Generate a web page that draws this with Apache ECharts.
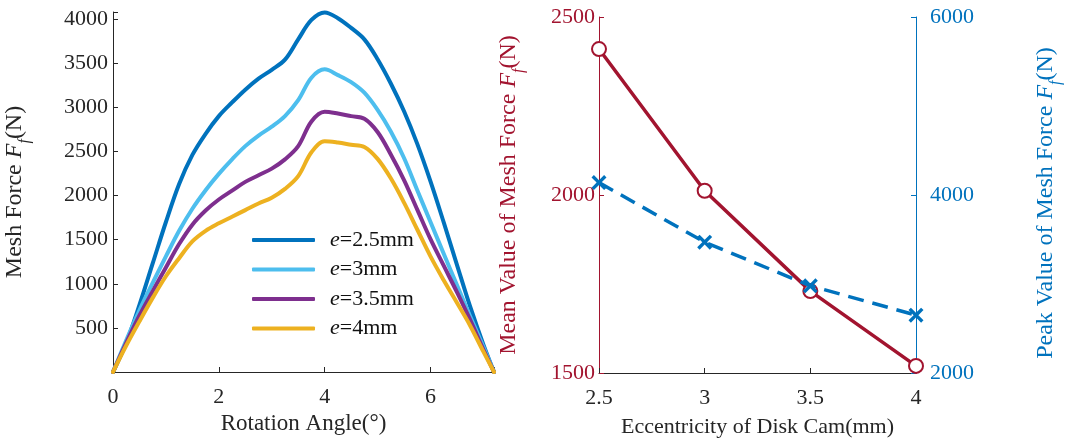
<!DOCTYPE html>
<html>
<head>
<meta charset="utf-8">
<script src="https://cdn.jsdelivr.net/npm/echarts@6/dist/echarts.min.js"></script>
<style>
  html, body { margin: 0; padding: 0; background: #ffffff; }
  #chart { width: 1065px; height: 443px; }
</style>
</head>
<body>
<div id="chart"></div>
<script>
// Rotation angle samples (degrees)
const angleDeg = [0, 0.25, 0.5, 0.75, 1, 1.25, 1.5, 1.75, 2, 2.25, 2.5, 2.75, 3, 3.25, 3.5, 3.75,
                  4, 4.25, 4.5, 4.75, 5, 5.25, 5.5, 5.75, 6, 6.25, 6.5, 6.75, 7, 7.2];

// Mesh force (N) over rotation angle, one array per eccentricity
const forceE25 = [0, 330, 760, 1230, 1700, 2130, 2460, 2700, 2900, 3055, 3200, 3325, 3425, 3540, 3770, 3990,
                  4075, 4010, 3900, 3770, 3545, 3270, 2955, 2585, 2160, 1695, 1215, 740, 310, 0];
const forceE3  = [0, 360, 700, 1010, 1310, 1600, 1850, 2060, 2245, 2410, 2560, 2680, 2780, 2900, 3080, 3335,
                  3430, 3365, 3285, 3165, 2970, 2725, 2425, 2060, 1700, 1340, 985, 630, 285, 0];
const forceE35 = [0, 330, 640, 915, 1185, 1450, 1670, 1830, 1955, 2055, 2155, 2230, 2305, 2410, 2560, 2840,
                  2950, 2930, 2900, 2870, 2720, 2465, 2175, 1840, 1505, 1205, 905, 590, 255, 0];
const forceE4  = [0, 300, 575, 840, 1085, 1290, 1480, 1600, 1685, 1760, 1835, 1910, 1975, 2075, 2220, 2490,
                  2615, 2600, 2575, 2550, 2415, 2195, 1920, 1615, 1310, 1040, 785, 525, 230, 0];

const curveNames = ['e=2.5mm', 'e=3mm', 'e=3.5mm', 'e=4mm'];

// Eccentricity of the disk cam (mm) and the derived force statistics
const eccentricity = [2.5, 3, 3.5, 4];
const meanForce = [2410, 2012, 1730, 1520];
const peakForce = [4140, 3470, 2980, 2650];

const SERIF = 'Liberation Serif';
const INK = '#262626';
const RED = '#A2142F';
const BLUE = '#0072BD';
const curveColors = ['#0072BD', '#4DBEEE', '#7E2F8E', '#EDB120'];

const zip = (xs, ys) => xs.map((x, i) => [x, ys[i]]);
const plain = v => String(v);

// Rich-text styles for a title with an italic F and subscript f
function forceRich(color, size) {
  return {
    n: { fontFamily: SERIF, fontSize: size, color: color, lineHeight: size, verticalAlign: 'top' },
    i: { fontFamily: SERIF, fontSize: size, color: color, fontStyle: 'italic', lineHeight: size, verticalAlign: 'top' },
    s: { fontFamily: SERIF, fontSize: Math.round(size * 0.68), color: color, fontStyle: 'italic',
         lineHeight: size + 6, verticalAlign: 'bottom' }
  };
}

const tickStyle = color => ({ show: true, inside: true, length: 5, lineStyle: { color: color, width: 1 } });
const lineAxis = color => ({ show: true, lineStyle: { color: color, width: 1 } });
const labelStyle = (color, margin, formatter) => ({
  margin: margin, fontFamily: SERIF, fontSize: 22, color: color, formatter: formatter
});

const curves = [forceE25, forceE3, forceE35, forceE4].map((ys, k) => ({
  name: curveNames[k],
  type: 'line',
  xAxisIndex: 0,
  yAxisIndex: 0,
  data: zip(angleDeg, ys),
  smooth: 0.35,
  showSymbol: false,
  symbol: 'none',
  lineStyle: { color: curveColors[k], width: 4, cap: 'round', join: 'round' },
  itemStyle: { color: curveColors[k] },
  z: 3
}));

const crossPath = 'path://M0,1.6 L1.6,0 L5,3.4 L8.4,0 L10,1.6 L6.6,5 L10,8.4 L8.4,10 L5,6.6 L1.6,10 L0,8.4 L3.4,5 Z';

const option = {
  animation: false,
  backgroundColor: '#ffffff',
  textStyle: { fontFamily: SERIF },
  grid: [
    { left: 113, top: 12, right: 571, bottom: 71 },
    { left: 599, top: 17, right: 147, bottom: 70 }
  ],
  legend: {
    data: curveNames,
    orient: 'vertical',
    left: 252,
    top: 229,
    padding: 0,
    itemWidth: 63,
    itemHeight: 4,
    itemGap: 7.5,
    icon: 'roundRect',
    selectedMode: false,
    formatter: name => '{i|e}{n|' + name.slice(1) + '}',
    textStyle: {
      fontFamily: SERIF, fontSize: 22, color: '#111111', lineHeight: 22,
      rich: {
        i: { fontFamily: SERIF, fontSize: 22, fontStyle: 'italic', color: '#111111', padding: [0, 0, 0, 10] },
        n: { fontFamily: SERIF, fontSize: 22, color: '#111111' }
      }
    }
  },
  xAxis: [
    {
      gridIndex: 0, type: 'value', min: 0, max: 7.2, interval: 2,
      axisLine: lineAxis(INK), axisTick: tickStyle(INK), splitLine: { show: false },
      axisLabel: labelStyle(INK, 14, v => (Math.abs(v % 2) < 1e-9 ? String(v) : '')),
      name: 'Rotation Angle(°)', nameLocation: 'middle', nameGap: 40,
      nameTextStyle: { fontFamily: SERIF, fontSize: 23, color: INK }
    },
    {
      gridIndex: 1, type: 'value', min: 2.5, max: 4, interval: 0.5,
      axisLine: lineAxis(INK), axisTick: tickStyle(INK), splitLine: { show: false },
      axisLabel: labelStyle(INK, 14, plain),
      name: 'Eccentricity of Disk Cam(mm)', nameLocation: 'middle', nameGap: 43,
      nameTextStyle: { fontFamily: SERIF, fontSize: 22, color: INK }
    }
  ],
  yAxis: [
    {
      gridIndex: 0, type: 'value', min: 0, max: 4080, interval: 500,
      axisLine: lineAxis(INK), axisTick: tickStyle(INK), splitLine: { show: false },
      axisLabel: labelStyle(INK, 5, v => (v > 0 && v % 500 === 0 ? String(v) : '')),
      name: '{n|Mesh Force }{i|F}{s|f}{n|(N)}', nameLocation: 'middle', nameGap: 80, nameRotate: 90,
      nameTextStyle: { rich: forceRich(INK, 24) }
    },
    {
      gridIndex: 1, type: 'value', position: 'left', min: 1500, max: 2500, interval: 500,
      axisLine: lineAxis(RED), axisTick: tickStyle(RED), splitLine: { show: false },
      axisLabel: labelStyle(RED, 4, plain),
      name: '{n|Mean Value of Mesh Force }{i|F}{s|f}{n|(N)}', nameLocation: 'middle', nameGap: 72, nameRotate: 90,
      nameTextStyle: { rich: forceRich(RED, 24) }
    },
    {
      gridIndex: 1, type: 'value', position: 'right', min: 2000, max: 6000, interval: 2000,
      axisLine: lineAxis(BLUE), axisTick: tickStyle(BLUE), splitLine: { show: false },
      axisLabel: labelStyle(BLUE, 14, plain),
      name: '{n|Peak Value of Mesh Force }{i|F}{s|f}{n|(N)}', nameLocation: 'middle', nameGap: 118, nameRotate: 90,
      nameTextStyle: { rich: forceRich(BLUE, 24), padding: [0, 16, 0, 0] }
    }
  ],
  series: curves.concat([
    {
      name: 'Mean',
      type: 'line',
      xAxisIndex: 1,
      yAxisIndex: 1,
      data: zip(eccentricity, meanForce),
      symbol: 'emptyCircle',
      symbolSize: 14,
      clip: false,
      lineStyle: { color: RED, width: 3.5 },
      itemStyle: { color: RED, borderColor: RED, borderWidth: 3.5 },
      z: 3
    },
    {
      name: 'Peak',
      type: 'line',
      xAxisIndex: 1,
      yAxisIndex: 2,
      data: zip(eccentricity, peakForce),
      symbol: crossPath,
      symbolSize: 15,
      clip: false,
      lineStyle: { color: BLUE, width: 3.5, type: [16, 9] },
      itemStyle: { color: BLUE },
      z: 4
    }
  ])
};

const chart = echarts.init(document.getElementById('chart'), null, { renderer: 'canvas' });
chart.setOption(option);
</script>
</body>
</html>
